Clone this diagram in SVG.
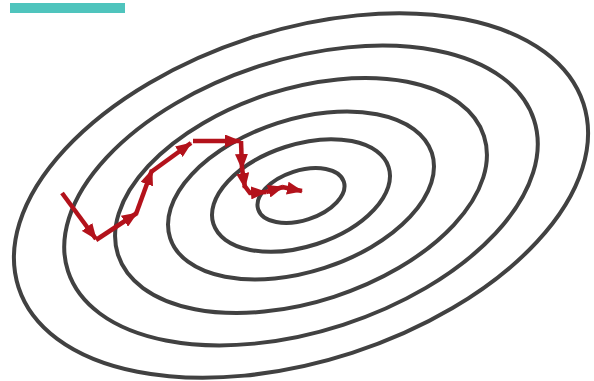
<svg xmlns="http://www.w3.org/2000/svg" width="594" height="381" viewBox="0 0 594 381">
<style>
.c{fill:none;stroke:#414141;stroke-width:4}
.a{stroke:#b3121b;stroke-width:4.5;fill:none;marker-end:url(#ah)}
</style>
<defs>
<marker id="ah" markerUnits="userSpaceOnUse" markerWidth="16" markerHeight="13" refX="15" refY="6.5" orient="auto">
<path d="M0,0 L16,6.5 L0,13 z" fill="#b3121b"/>
</marker>
</defs>
<rect x="10" y="3" width="115" height="10" fill="#4fc4bd"/>
<g id="contours" transform="translate(301 195.5) rotate(-18)">
<ellipse id="c1" class="c" rx="297" ry="165.5"/>
<ellipse id="c2" class="c" rx="245" ry="136"/>
<ellipse id="c3" class="c" rx="192.4" ry="106.5"/>
<ellipse id="c4" class="c" rx="137.6" ry="76.2"/>
<ellipse id="c5" class="c" rx="92.1" ry="51"/>
<ellipse id="c6" class="c" rx="45" ry="24.9"/>
</g>
<g id="path">
<line class="a" x1="62" y1="193" x2="96" y2="239"/>
<line class="a" x1="96" y1="240" x2="137" y2="213"/>
<line class="a" x1="136" y1="214" x2="152" y2="170"/>
<line class="a" x1="151" y1="172" x2="191" y2="143"/>
<line class="a" x1="193" y1="141" x2="240" y2="141"/>
<line class="a" x1="241" y1="141" x2="242" y2="169"/>
<line class="a" x1="242" y1="168" x2="245" y2="188"/>
<polyline class="a" points="244,185 250,193 266,192"/>
<line class="a" x1="266" y1="192" x2="283" y2="187"/>
<line class="a" x1="282" y1="187" x2="302" y2="191"/>
</g>
</svg>
